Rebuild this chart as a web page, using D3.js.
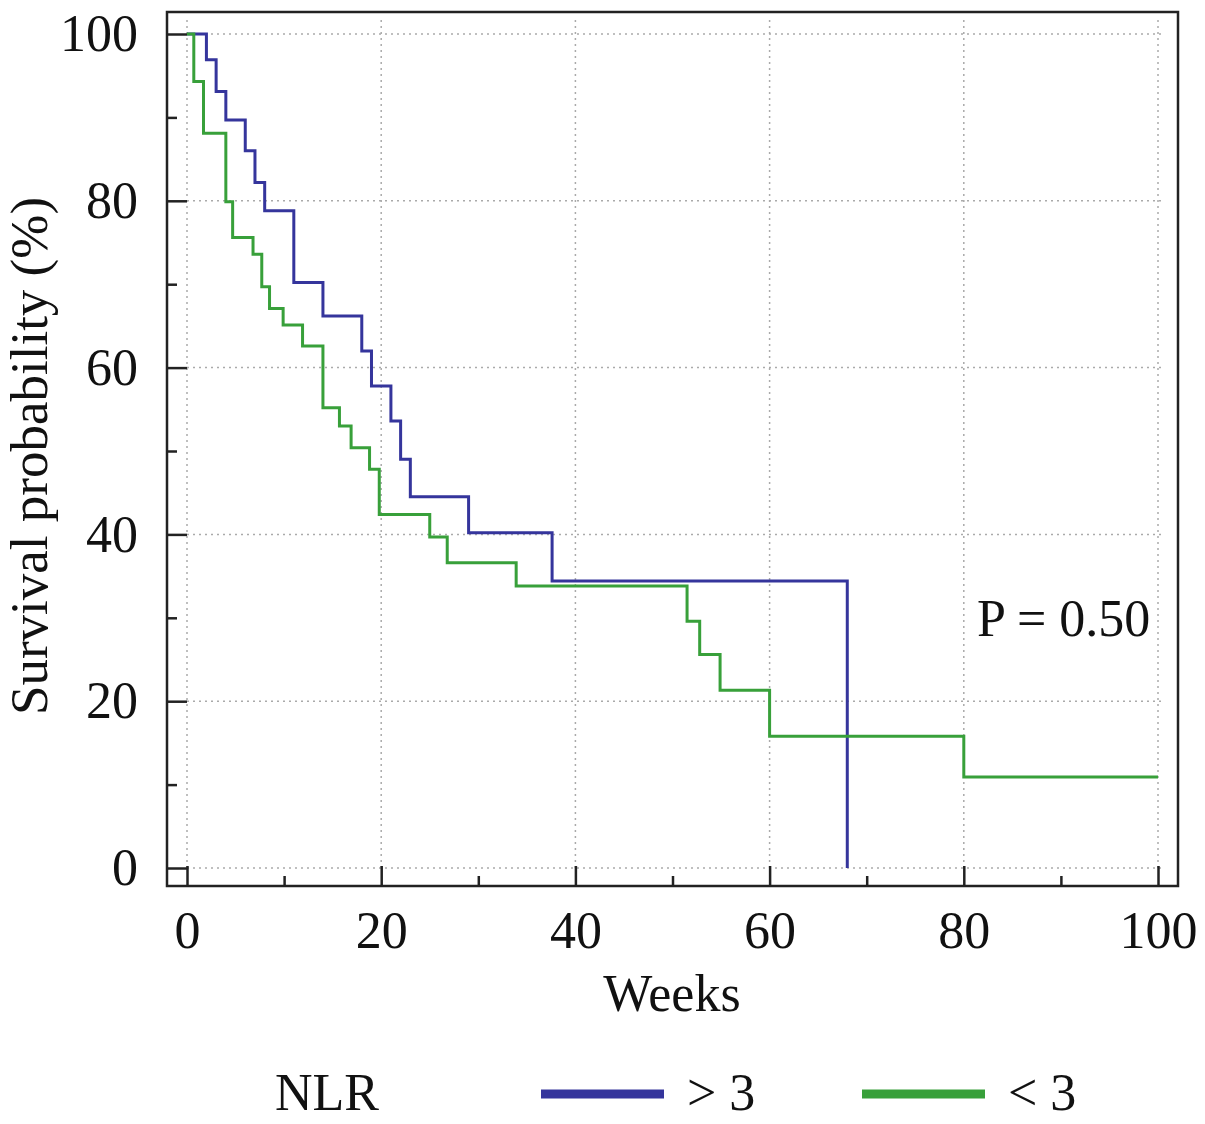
<!DOCTYPE html>
<html>
<head>
<meta charset="utf-8">
<script src="https://cdn.jsdelivr.net/npm/d3@7"></script>
<style>
  body { margin: 0; background: #fff; }
  text { font-family: "Liberation Serif", "DejaVu Serif", serif; fill: #111; }
</style>
</head>
<body>
<div id="chart"></div>
<script>
// Kaplan-Meier steps: [week, survival %]
const highNlr = [[0, 100], [2, 96.9], [3, 93.1], [4, 89.7], [6, 86.0], [7, 82.2], [8, 78.8],
  [11, 70.2], [14, 66.2], [18, 62.0], [19, 57.8], [21, 53.6], [22, 49.0], [23, 44.5],
  [29, 40.2], [37.6, 34.4], [68, 0]];
const lowNlr = [[0, 100], [0.7, 94.3], [1.7, 88.1], [4, 79.9], [4.7, 75.6], [6.8, 73.6],
  [7.7, 69.7], [8.5, 67.1], [9.9, 65.1], [11.9, 62.6], [14, 55.2], [15.7, 53.0], [16.9, 50.4],
  [18.8, 47.8], [19.8, 42.4], [25, 39.7], [26.8, 36.6], [33.9, 33.8], [51.5, 29.6],
  [52.8, 25.6], [54.9, 21.3], [60, 15.8], [80, 10.9], [100, 10.9]];
const seriesNames = ['> 3', '< 3'];
const legendTitle = 'NLR';
const xMajor = [0, 20, 40, 60, 80, 100];
const xMinor = [10, 30, 50, 70, 90];
const yMajor = [0, 20, 40, 60, 80, 100];
const yMinor = [10, 30, 50, 70, 90];
const pText = 'P = 0.50';

const w = 1205;
const h = 1124;
const colors = ['#35359c', '#38a03a'];
const frame = { left: 167, top: 12, right: 1178, bottom: 886 };

const svg = d3.select('#chart')
  .append('svg')
  .attr('width', w)
  .attr('height', h);

const xScale = d3.scaleLinear()
  .domain([0, 100])
  .range([187, 1158]);
const yScale = d3.scaleLinear()
  .domain([0, 100])
  .range([868, 34]);

// dotted grid
svg.append('g')
  .selectAll('line')
  .data(xMajor)
  .enter()
  .append('line')
  .attr('x1', d => xScale(d))
  .attr('x2', d => xScale(d))
  .attr('y1', yScale(100) - 14)
  .attr('y2', yScale(0))
  .attr('stroke', '#aaa')
  .attr('stroke-width', 1.5)
  .attr('stroke-dasharray', '2,4');
svg.append('g')
  .selectAll('line')
  .data(yMajor)
  .enter()
  .append('line')
  .attr('x1', xScale(0))
  .attr('x2', xScale(100) + 6)
  .attr('y1', d => yScale(d))
  .attr('y2', d => yScale(d))
  .attr('stroke', '#aaa')
  .attr('stroke-width', 1.5)
  .attr('stroke-dasharray', '2,4');

// axes with inward ticks
const xAxis = d3.axisBottom(xScale)
  .tickValues(xMajor)
  .tickSize(-20)
  .tickPadding(25)
  .tickFormat(d3.format('d'));
const xAxisMinor = d3.axisBottom(xScale)
  .tickValues(xMinor)
  .tickSize(-10)
  .tickFormat('');
const yAxis = d3.axisLeft(yScale)
  .tickValues(yMajor)
  .tickSize(-20)
  .tickPadding(29)
  .tickFormat(d3.format('d'));
const yAxisMinor = d3.axisLeft(yScale)
  .tickValues(yMinor)
  .tickSize(-10)
  .tickFormat('');

[[xAxis, 'translate(0,' + frame.bottom + ')'], [xAxisMinor, 'translate(0,' + frame.bottom + ')'],
 [yAxis, 'translate(' + frame.left + ',0)'], [yAxisMinor, 'translate(' + frame.left + ',0)']]
  .forEach(([axis, tr]) => {
    const g = svg.append('g')
      .attr('transform', tr)
      .call(axis);
    g.select('.domain').remove();
    g.selectAll('line').attr('stroke', '#222').attr('stroke-width', 2.5);
    g.selectAll('text')
      .style('font-family', '"Liberation Serif", serif')
      .style('font-size', '52px')
      .attr('fill', '#111');
  });

// survival curves
const line = d3.line()
  .x(d => xScale(d[0]))
  .y(d => yScale(d[1]))
  .curve(d3.curveStepAfter);

[highNlr, lowNlr].forEach((data, i) => {
  svg.append('path')
    .datum(data)
    .attr('d', line)
    .attr('fill', 'none')
    .attr('stroke', colors[i])
    .attr('stroke-width', 3);
});

// frame
svg.append('rect')
  .attr('x', frame.left)
  .attr('y', frame.top)
  .attr('width', frame.right - frame.left)
  .attr('height', frame.bottom - frame.top)
  .attr('fill', 'none')
  .attr('stroke', '#222')
  .attr('stroke-width', 2.5);

// labels
svg.append('text')
  .attr('x', 672)
  .attr('y', 1011)
  .attr('text-anchor', 'middle')
  .style('font-size', '52px')
  .text('Weeks');

svg.append('text')
  .attr('transform', 'translate(47,456) rotate(-90)')
  .attr('text-anchor', 'middle')
  .style('font-size', '53px')
  .text('Survival probability (%)');

svg.append('text')
  .attr('x', 977)
  .attr('y', 636)
  .style('font-size', '52px')
  .text(pText);

// legend
const legend = svg.append('g');
legend.append('text')
  .attr('x', 275)
  .attr('y', 1110)
  .style('font-size', '52px')
  .text(legendTitle);
const legendX = [541, 862];
seriesNames.forEach((name, i) => {
  legend.append('line')
    .attr('x1', legendX[i])
    .attr('x2', legendX[i] + 123)
    .attr('y1', 1094)
    .attr('y2', 1094)
    .attr('stroke', colors[i])
    .attr('stroke-width', 9);
  legend.append('text')
    .attr('x', legendX[i] + 146)
    .attr('y', 1110)
    .style('font-size', '52px')
    .text(name);
});
</script>
</body>
</html>
